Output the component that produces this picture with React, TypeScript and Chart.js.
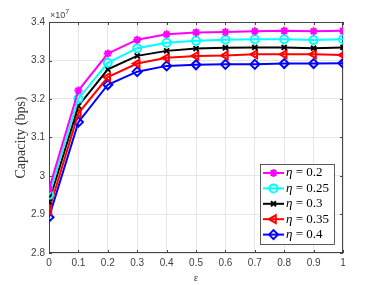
import React, { useEffect, useRef } from "react";
import { Chart, registerables } from "chart.js";
import { drawPoint } from "chart.js/helpers";

Chart.register(...registerables);

const epsilon = [0, 0.1, 0.2, 0.3, 0.4, 0.5, 0.6, 0.7, 0.8, 0.9, 1];
const eta02 = [2.966, 3.222, 3.318, 3.354, 3.368, 3.373, 3.374, 3.376, 3.377, 3.376, 3.377];
const eta025 = [2.951, 3.201, 3.294, 3.332, 3.346, 3.351, 3.354, 3.355, 3.355, 3.353, 3.355];
const eta03 = [2.933, 3.182, 3.277, 3.312, 3.325, 3.331, 3.333, 3.334, 3.334, 3.332, 3.334];
const eta035 = [2.911, 3.163, 3.257, 3.292, 3.307, 3.312, 3.313, 3.316, 3.316, 3.316, 3.314];
const eta04 = [2.893, 3.140, 3.237, 3.271, 3.286, 3.289, 3.290, 3.290, 3.292, 3.292, 3.293];
const seriesLabels = ["0.2", "0.25", "0.3", "0.35", "0.4"];
const yTicks = [2.8, 2.9, 3.0, 3.1, 3.2, 3.3, 3.4];
const xTicks = [0, 0.1, 0.2, 0.3, 0.4, 0.5, 0.6, 0.7, 0.8, 0.9, 1];

const colors = ["#ff00ff", "#00ffff", "#000000", "#ff0000", "#0000ff"];
const styles: any[] = ["star", "circle", "crossRot", "triangle", "rectRot"];
const rotations = [0, 0, 0, -90, 0];
const radii = [4, 4, 3.5, 4.5, 4.5];

const boxPlugin = {
  id: "boxPlugin",
  beforeDatasetsDraw(chart: any) {
    const { ctx, chartArea, scales } = chart;
    const { left, right, top, bottom } = chartArea;
    ctx.save();
    ctx.strokeStyle = "#444";
    ctx.lineWidth = 1;
    ctx.strokeRect(left + 0.5, top + 0.5, right - left - 1, bottom - top - 1);
    ctx.beginPath();
    scales.x.ticks.forEach((t: any) => {
      const x = Math.round(scales.x.getPixelForValue(t.value)) + 0.5;
      ctx.moveTo(x, bottom); ctx.lineTo(x, bottom - 3);
      ctx.moveTo(x, top); ctx.lineTo(x, top + 3);
    });
    scales.y.ticks.forEach((t: any) => {
      const y = Math.round(scales.y.getPixelForValue(t.value)) + 0.5;
      ctx.moveTo(left, y); ctx.lineTo(left + 3, y);
      ctx.moveTo(right, y); ctx.lineTo(right - 3, y);
    });
    ctx.stroke();
    ctx.restore();
  },
  afterDraw(chart: any) {
    const { ctx, chartArea } = chart;
    const { left, top } = chartArea;
    ctx.save();
    // exponent
    ctx.fillStyle = "#404040";
    ctx.font = "9px 'Liberation Sans', Arial, sans-serif";
    ctx.textBaseline = "alphabetic";
    ctx.textAlign = "left";
    ctx.fillText("\u00d710", left + 1, top - 4);
    const w = ctx.measureText("\u00d710").width;
    ctx.font = "7px 'Liberation Sans', Arial, sans-serif";
    ctx.fillText("7", left + 1 + w, top - 8);

    // legend
    const lx = 260, ly = 164, lw = 74, lh = 80;
    ctx.fillStyle = "#fff";
    ctx.fillRect(lx, ly, lw, lh);
    ctx.strokeStyle = "#333";
    ctx.lineWidth = 0.8;
    ctx.strokeRect(lx + 0.5, ly + 0.5, lw, lh);
    chart.data.datasets.forEach((ds: any, i: number) => {
      const y = ly + 9 + i * 15.4;
      ctx.strokeStyle = ds.borderColor;
      ctx.lineWidth = 2;
      ctx.beginPath();
      ctx.moveTo(lx + 3, y);
      ctx.lineTo(lx + 24, y);
      ctx.stroke();
      ctx.lineWidth = 2;
      ctx.fillStyle = "rgba(0,0,0,0)";
      drawPoint(ctx, {
        pointStyle: ds.pointStyle,
        radius: ds.pointRadius,
        rotation: ds.pointRotation,
        borderWidth: 2,
      } as any, lx + 13.5, y);
      ctx.fillStyle = "#000";
      ctx.textBaseline = "middle";
      ctx.font = "italic 13px 'Liberation Serif', 'Times New Roman', serif";
      ctx.fillText("\u03b7", lx + 26, y);
      const ew = ctx.measureText("\u03b7").width;
      ctx.font = "13px 'Liberation Serif', 'Times New Roman', serif";
      ctx.fillText(" = " + seriesLabels[i], lx + 26 + ew, y);
    });
    ctx.restore();
  },
};

export default function App() {
  const ref = useRef<HTMLCanvasElement>(null);
  useEffect(() => {
    document.body.style.margin = "0";
    const all = [eta02, eta025, eta03, eta035, eta04];
    const chart = new Chart(ref.current!, {
      type: "line",
      data: {
        datasets: all.map((arr, i) => ({
          label: "\u03b7 = " + seriesLabels[i],
          data: arr.map((v, j) => ({ x: epsilon[j], y: v })),
          borderColor: colors[i],
          backgroundColor: colors[i],
          pointBackgroundColor: "rgba(0,0,0,0)",
          pointBorderColor: colors[i],
          pointStyle: styles[i],
          pointRotation: rotations[i],
          pointRadius: radii[i],
          pointBorderWidth: 2,
          borderWidth: 2,
          tension: 0,
        })),
      },
      options: {
        animation: false,
        responsive: false,
        events: [],
        layout: { padding: { left: 0, right: 36, top: 22, bottom: 0 } },
        plugins: { legend: { display: false }, tooltip: { enabled: false } },
        scales: {
          x: {
            type: "linear",
            min: 0,
            max: 1,
            afterBuildTicks: (s: any) => { s.ticks = xTicks.map((v) => ({ value: v })); },
            afterFit: (s: any) => { s.height = 32; },
            ticks: {
              color: "#404040",
              font: { family: "'Liberation Sans', Arial, sans-serif", size: 10 },
              padding: 4,
              maxRotation: 0,
              callback: (v: any) => String(Math.round(v * 10) / 10),
            },
            grid: { color: "#e6e6e6", drawTicks: false },
            border: { display: false },
            title: {
              display: true,
              text: "\u03b5",
              color: "#333",
              font: { family: "'Liberation Serif', serif", size: 11 },
              padding: { top: -2, bottom: 0 },
            },
          },
          y: {
            type: "linear",
            min: 2.8,
            max: 3.4,
            afterBuildTicks: (s: any) => { s.ticks = yTicks.map((v) => ({ value: v })); },
            afterFit: (s: any) => { s.width = 49; },
            ticks: {
              color: "#404040",
              font: { family: "'Liberation Sans', Arial, sans-serif", size: 10 },
              padding: 4,
              callback: (v: any) => String(Math.round(v * 10) / 10),
            },
            grid: { color: "#e6e6e6", drawTicks: false },
            border: { display: false },
            title: {
              display: true,
              text: "Capacity (bps)",
              color: "#333",
              font: { family: "'Liberation Serif', 'Times New Roman', serif", size: 14 },
              padding: { top: 13, bottom: 0 },
            },
          },
        },
      },
      plugins: [boxPlugin],
    } as any);
    return () => chart.destroy();
  }, []);
  return <canvas ref={ref} width={379} height={285} style={{ display: "block" }} />;
}
